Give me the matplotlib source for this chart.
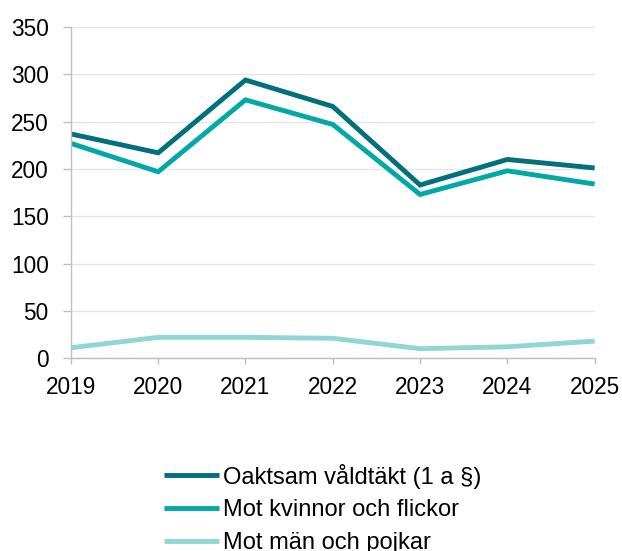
import matplotlib.pyplot as plt

plt.rcParams["font.family"] = ["Liberation Sans", "DejaVu Sans"]

YEARS = [2019, 2020, 2021, 2022, 2023, 2024, 2025]
TOTAL = [237, 217, 294, 266, 183, 210, 201]
WOMEN = [227, 197, 273, 247, 173, 198, 184]
MEN = [11, 22, 22, 21, 10, 12, 18]
LABELS = ["Oaktsam våldtäkt (1 a §)", "Mot kvinnor och flickor", "Mot män och pojkar"]
COLORS = ["#00707A", "#00A9A6", "#8FD6D5"]

fig = plt.figure(figsize=(6.22, 5.51), dpi=100)
ax = fig.add_axes([0.114, 0.350, 0.842, 0.601])

for serie, label, color in zip([TOTAL, WOMEN, MEN], LABELS, COLORS):
    ax.plot(YEARS, serie, color=color, linewidth=3.5, label=label,
            solid_capstyle="butt", solid_joinstyle="miter")

ax.set_xlim(2019, 2025)
ax.set_ylim(0, 350)
ax.set_xticks(YEARS)
ax.set_yticks(range(0, 351, 50))
ax.tick_params(axis="both", labelsize=16.3, labelcolor="#000000",
               color="#BFBFBF", width=1)
ax.tick_params(axis="x", length=4.5, pad=8)
ax.tick_params(axis="y", length=6, pad=10)
ax.grid(axis="y", color="#E6E6E6", linewidth=1)
ax.set_axisbelow(True)
for side in ["top", "right"]:
    ax.spines[side].set_visible(False)
for side in ["left", "bottom"]:
    ax.spines[side].set_color("#BFBFBF")
    ax.spines[side].set_linewidth(1)

fig.legend(loc="upper center", bbox_to_anchor=(0.519, 0.180), ncol=1,
           frameon=False, fontsize=17, handlelength=2.35, handletextpad=0.18,
           labelspacing=0.45, borderpad=0)

fig.savefig("out.png", dpi=100)
